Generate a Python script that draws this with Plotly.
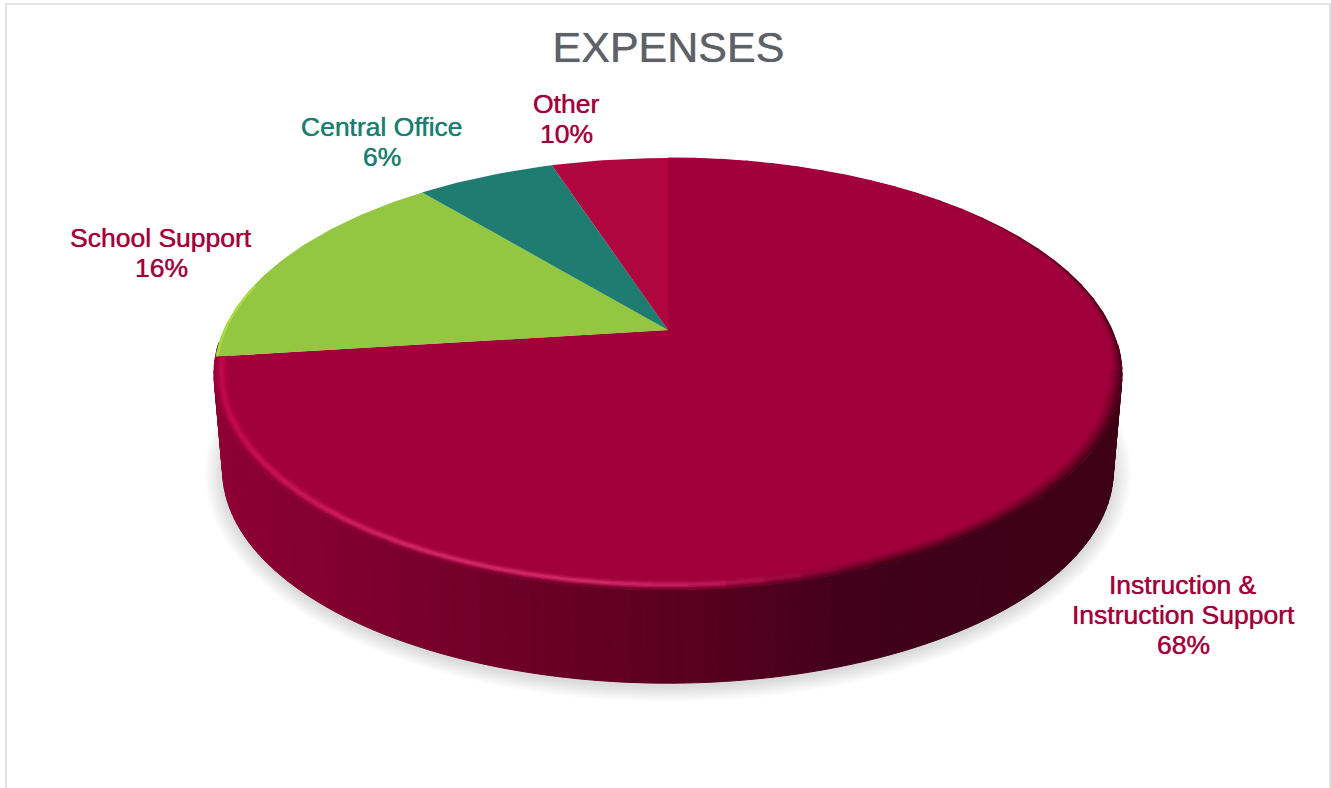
import math
import plotly.graph_objects as go

# ---- data ----
categories = ["Instruction & Instruction Support", "School Support", "Central Office", "Other"]
# share of the disc each slice actually occupies once the perspective is undone
drawn_shares = [73.0, 15.95, 6.0, 5.05]
# percentages printed in the labels
label_percents = [68, 16, 6, 10]
label_lines = [["Instruction &", "Instruction Support"], ["School Support"], ["Central Office"], ["Other"]]

# ---- style ----
slice_colors = ["#a2003b", "#94c741", "#1e7c70", "#b0063f"]
label_colors = ["#a2003b", "#a2003b", "#1e7c70", "#a2003b"]
label_centers = [(1183, 585), (161, 238), (382, 127), (566, 104)]
LINE_STEP = 30
FONT = "Liberation Sans"

# perspective model of the disc (front is larger than back)
CX, K = 668.0, 0.2037
TOP = dict(a=444.5, b=207.0, y0=330.0)
BOT = dict(a=436.0, b=204.0, y0=427.0)


def project(theta, r=1.0, disc=TOP):
    u, v = r * math.sin(theta), -r * math.cos(theta)
    s = 1.0 / (1.0 - K * v)
    return CX + disc["a"] * u * s, disc["y0"] + disc["b"] * v * s


def hex2rgb(c):
    return tuple(int(c[i:i + 2], 16) for i in (1, 3, 5))


def mix(c1, c2, t):
    a, b = hex2rgb(c1), hex2rgb(c2)
    return "#%02x%02x%02x" % tuple(round(a[i] + (b[i] - a[i]) * t) for i in range(3))


def clip01(x):
    return max(0.0, min(1.0, x))


wall_stops = [(215, "#8d0033"), (400, "#7a002b"), (668, "#5c001f"), (850, "#42001a"), (1125, "#3d0014")]


def wall_color(x):
    for (x0, c0), (x1, c1) in zip(wall_stops, wall_stops[1:]):
        if x <= x1:
            return mix(c0, c1, max(0.0, (x - x0) / (x1 - x0)))
    return wall_stops[-1][1]


def poly(xs, ys, fill, line=None):
    return go.Scatter(x=xs, y=ys, mode="lines", fill="toself", fillcolor=fill,
                      line=dict(color=line or "rgba(0,0,0,0)", width=1 if line else 0),
                      hoverinfo="skip", showlegend=False)


traces = []

# soft shadow under the pie
FULL = [2 * math.pi * i / 180 for i in range(181)]
for g in range(1, 19):
    xs, ys = [], []
    for t in FULL:
        x, y = project(t, 1.0, BOT)
        xs.append(CX + (x - CX) * (1 + g / 440))
        ys.append(y + 3 + (y - (BOT["y0"] + 40)) * g / 240)
    traces.append(poly(xs, ys, "rgba(0,0,0,0.0085)"))

# side wall
STEP = math.radians(1.5)
n = int(round(math.radians(172) / STEP))
start = math.radians(94)
for i in range(n):
    t1, t2 = start + i * STEP, start + (i + 1) * STEP
    p = [project(t1), project(t2), project(t2, 1, BOT), project(t1, 1, BOT)]
    col = wall_color((p[0][0] + p[1][0]) / 2)
    traces.append(poly([q[0] for q in p] + [p[0][0]], [q[1] for q in p] + [p[0][1]], col, col))

# top face wedges, angles from the drawn shares, clockwise from 12 o'clock
total = sum(drawn_shares)
angle = 0.0
spans = []
for share, col in zip(drawn_shares, slice_colors):
    span = 2 * math.pi * share / total
    spans.append((angle, angle + span))
    m = max(2, int(span / math.radians(1)))
    pts = [project(angle + span * j / m) for j in range(m + 1)]
    ax, ay = project(0, 0.0)
    traces.append(poly([ax] + [q[0] for q in pts] + [ax], [ay] + [q[1] for q in pts] + [ay], col))
    angle += span

# bevel on the rim of the large slice
RINGS = 9
base = slice_colors[0]
a0, a1 = spans[0]
chunks = int((a1 - a0) / math.radians(4))
for ring in range(RINGS):
    t = (ring + 0.5) / RINGS
    r = 0.968 + 0.032 * t
    for c in range(chunks):
        th1 = a0 + (a1 - a0) * c / chunks
        th2 = a0 + (a1 - a0) * min(chunks, c + 1.06) / chunks
        mid = (th1 + th2) / 2
        u, v = math.sin(mid), -math.cos(mid)
        bright = clip01((0.38 - u) / 0.5) * clip01((v + 0.3) / 0.4)
        bump = math.exp(-((t - 0.55) / 0.26) ** 2)
        peak = mix("#c40a50", "#d62c6a", clip01((u + 0.95) / 0.5))
        col = mix(base, peak, bright * bump)
        mx = project(mid, r)[0]
        col = mix(col, wall_color(mx), clip01((v + 0.1) / 0.4) * bright * t ** 5)
        dark = clip01((u - 0.05) / 0.35) * clip01((v + 0.8) / 0.5)
        expo = 1.3 + 11 * clip01((0.25 - v) / 1.1)
        col = mix(col, "#3d0014", dark * t ** expo)
        pts = [project(th1 + (th2 - th1) * j / 2, r) for j in range(3)]
        traces.append(go.Scatter(x=[q[0] for q in pts], y=[q[1] for q in pts], mode="lines",
                                 line=dict(color=col, width=1.8), hoverinfo="skip", showlegend=False))

# light edge of the green slice
b0, b1 = spans[1]
pts = [project(b0 + (b1 - b0) * j / 30 * 0.35, 0.996) for j in range(31)]
traces.append(go.Scatter(x=[q[0] for q in pts], y=[q[1] for q in pts], mode="lines",
                         line=dict(color="#a8de3e", width=2), hoverinfo="skip", showlegend=False))

fig = go.Figure(traces)

# labels
annotations = []
for lines, pct, col, (lx, ly) in zip(label_lines, label_percents, label_colors, label_centers):
    for i, text in enumerate(lines + [f"{pct}%"]):
        annotations.append(dict(x=lx, y=ly + i * LINE_STEP, xref="x", yref="y", text=text,
                                showarrow=False, xanchor="center", yanchor="middle",
                                font=dict(family=FONT, size=26.5, color=col,
                                          shadow=f"0 0 0.8px {col}")))

border = "#e3e3e3"
shapes = [
    dict(type="line", x0=6, x1=6, y0=4, y1=788, line=dict(color=border, width=2)),
    dict(type="line", x0=5, x1=1330, y0=4, y1=4, line=dict(color=border, width=2)),
    dict(type="line", x0=1330, x1=1330, y0=4, y1=788, line=dict(color=border, width=2)),
]

fig.update_layout(
    width=1331, height=788, margin=dict(l=0, r=0, t=0, b=0),
    paper_bgcolor="white", plot_bgcolor="white", showlegend=False,
    title=dict(text="EXPENSES", x=668.5 / 1331, xanchor="center", y=1 - 47 / 788, yanchor="middle",
               font=dict(family=FONT, size=43, color="#5f6168", shadow="0 0 0.9px #5f6168")),
    xaxis=dict(range=[0, 1331], visible=False, fixedrange=True),
    yaxis=dict(range=[788, 0], visible=False, fixedrange=True),
    annotations=annotations, shapes=shapes,
)

fig.write_html("out.html", config=dict(displayModeBar=False),
               post_script="document.body.style.margin='0';document.body.style.overflow='hidden';")
